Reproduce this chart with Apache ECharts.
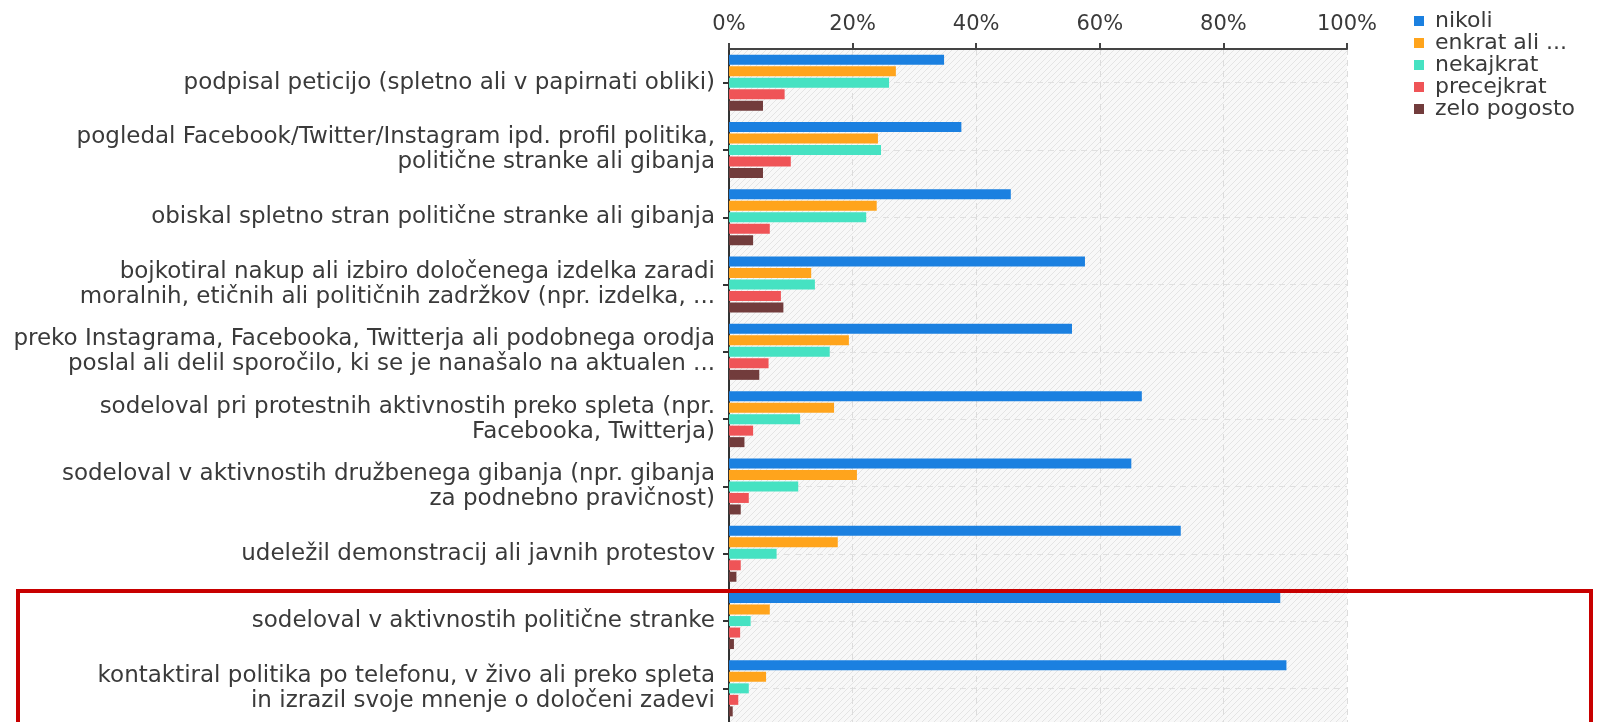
<!DOCTYPE html>
<html>
<head>
<meta charset="utf-8">
<title>Politična participacija</title>
<script src="https://cdn.jsdelivr.net/npm/echarts@6/dist/echarts.min.js"></script>
<style>
  html, body { margin: 0; padding: 0; background: #fff; }
  #barChartContainer { width: 1603px; height: 722px; }
</style>
</head>
<body>
<div id="barChartContainer"></div>
<script>
// vprašanja (od zgoraj navzdol)
var questions = [
    'podpisal peticijo (spletno ali v papirnati obliki)',
    'pogledal Facebook/Twitter/Instagram ipd. profil politika,\npolitične stranke ali gibanja',
    'obiskal spletno stran politične stranke ali gibanja',
    'bojkotiral nakup ali izbiro določenega izdelka zaradi\nmoralnih, etičnih ali političnih zadržkov (npr. izdelka, ...',
    'preko Instagrama, Facebooka, Twitterja ali podobnega orodja\nposlal ali delil sporočilo, ki se je nanašalo na aktualen ...',
    'sodeloval pri protestnih aktivnostih preko spleta (npr.\nFacebooka, Twitterja)',
    'sodeloval v aktivnostih družbenega gibanja (npr. gibanja\nza podnebno pravičnost)',
    'udeležil demonstracij ali javnih protestov',
    'sodeloval v aktivnostih politične stranke',
    'kontaktiral politika po telefonu, v živo ali preko spleta\nin izrazil svoje mnenje o določeni zadevi'
];

var answerNames = ['nikoli', 'enkrat ali ...', 'nekajkrat', 'precejkrat', 'zelo pogosto'];

// deleži v %
var nikoli      = [34.8, 37.6, 45.6, 57.6, 55.5, 66.8, 65.1, 73.1, 89.2, 90.2];
var enkrat      = [27.0, 24.1, 23.9, 13.3, 19.4, 17.0, 20.7, 17.6, 6.6, 6.0];
var nekajkrat   = [25.9, 24.6, 22.2, 13.9, 16.3, 11.5, 11.2, 7.7, 3.5, 3.2];
var precejkrat  = [9.0, 10.0, 6.6, 8.4, 6.4, 3.9, 3.2, 1.9, 1.8, 1.5];
var zeloPogosto = [5.5, 5.5, 3.9, 8.8, 4.9, 2.5, 1.9, 1.2, 0.8, 0.6];

var xTicks = [0, 20, 40, 60, 80, 100];

var colors = ['#1b80e0', '#ffa41c', '#46e2c2', '#ef5457', '#723c3c'];

var fontName = '"DejaVu Sans", Verdana, sans-serif';

// šrafirano ozadje
var hatch = document.createElement('canvas');
hatch.width = 6;
hatch.height = 6;
var ctx = hatch.getContext('2d');
ctx.fillStyle = '#f8f8f8';
ctx.fillRect(0, 0, 6, 6);
ctx.strokeStyle = '#e4e4e4';
ctx.lineWidth = 1;
ctx.beginPath();
ctx.moveTo(0, 6); ctx.lineTo(6, 0);
ctx.moveTo(-1, 1); ctx.lineTo(1, -1);
ctx.moveTo(5, 7); ctx.lineTo(7, 5);
ctx.stroke();

var seriesData = [nikoli, enkrat, nekajkrat, precejkrat, zeloPogosto];
var series = [];
for (var i = 0; i < answerNames.length; i++) {
    series.push({
        name: answerNames[i],
        type: 'bar',
        data: seriesData[i],
        barWidth: 10,
        barGap: '15%',
        itemStyle: { color: colors[i] },
        silent: true
    });
}

var myChart = echarts.init(document.getElementById('barChartContainer'));
var option = {
    animation: false,
    textStyle: { fontFamily: fontName },
    legend: {
        orient: 'vertical',
        left: 1409,
        top: 5,
        icon: 'rect',
        itemWidth: 10,
        itemHeight: 10,
        itemGap: 0,
        textStyle: { fontSize: 22, color: '#3a3a3a', fontFamily: fontName, lineHeight: 21.5, padding: [0, 0, 0, 6] },
        data: answerNames
    },
    grid: {
        left: 729,
        width: 618,
        top: 49,
        height: 681,
        show: true,
        borderWidth: 0,
        backgroundColor: { image: hatch, repeat: 'repeat' }
    },
    xAxis: {
        type: 'value',
        position: 'top',
        min: xTicks[0],
        max: xTicks[xTicks.length - 1],
        interval: xTicks[1] - xTicks[0],
        axisLine: { show: true, lineStyle: { color: '#444', width: 2 } },
        axisTick: { show: true, length: 6, lineStyle: { color: '#444', width: 2 } },
        axisLabel: { formatter: '{value}%', fontSize: 21, color: '#3a3a3a', margin: 14 },
        splitLine: { show: true, lineStyle: { color: '#dcdcdc', type: [6, 5] } }
    },
    yAxis: {
        type: 'category',
        inverse: true,
        data: questions,
        axisLine: { show: true, lineStyle: { color: '#333', width: 2 } },
        axisTick: { show: true, alignWithLabel: true, length: 6, lineStyle: { color: '#333', width: 2 } },
        axisLabel: { fontSize: 23, color: '#3a3a3a', lineHeight: 25, margin: 14, align: 'right' },
        splitLine: { show: true, alignWithLabel: true, lineStyle: { color: '#e0e0e0', type: [6, 5] } }
    },
    series: series,
    graphic: [{
        type: 'rect',
        z: 100,
        shape: { x: 18, y: 591, width: 1573, height: 200 },
        style: { fill: 'none', stroke: '#c80000', lineWidth: 4 }
    }]
};
myChart.setOption(option);
</script>
</body>
</html>
